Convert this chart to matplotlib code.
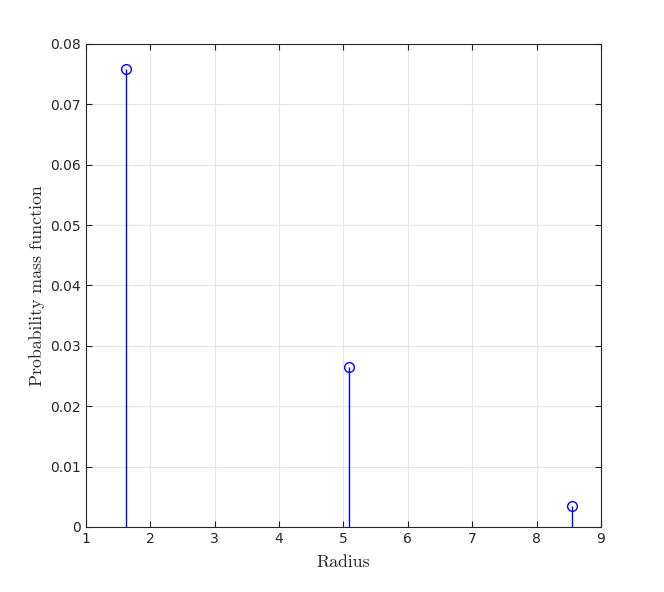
import matplotlib
matplotlib.use("Agg")
import matplotlib.pyplot as plt

radius = [1.62, 5.09, 8.55]
pmf = [0.0759, 0.0265, 0.0035]
xticks = [1, 2, 3, 4, 5, 6, 7, 8, 9]
yticks = [0, 0.01, 0.02, 0.03, 0.04, 0.05, 0.06, 0.07, 0.08]

fig = plt.figure(figsize=(6.64, 5.92), dpi=100)
ax = fig.add_axes([0.1295, 0.1098, 0.7756, 0.8159])
ml, sl, bl = ax.stem(radius, pmf, linefmt='b-', markerfmt='bo', basefmt=' ')
ml.set_markerfacecolor('none')
ml.set_markersize(7)
ml.set_markeredgewidth(1.0)
sl.set_linewidth(1.0)
ax.set_xlim(1, 9)
ax.set_ylim(0, 0.08)
ax.set_xticks(xticks)
ax.set_yticks(yticks)
ax.set_yticklabels(['0', '0.01', '0.02', '0.03', '0.04', '0.05', '0.06', '0.07', '0.08'])
ax.grid(True, color='#e6e6e6', linewidth=0.8)
ax.set_axisbelow(True)
ax.tick_params(direction='in', length=4, color='#262626', labelsize=10, labelcolor='#262626', top=True, right=True)
for s in ax.spines.values():
    s.set_color('#262626')
    s.set_linewidth(0.8)
ax.set_xlabel('Radius', fontfamily='cmr10', fontsize=12.8, color='#262626', labelpad=6)
ax.set_ylabel('Probability mass function', fontfamily='cmr10', fontsize=12.8, color='#262626', labelpad=4)
fig.savefig('out.png', dpi=100, facecolor='white')
